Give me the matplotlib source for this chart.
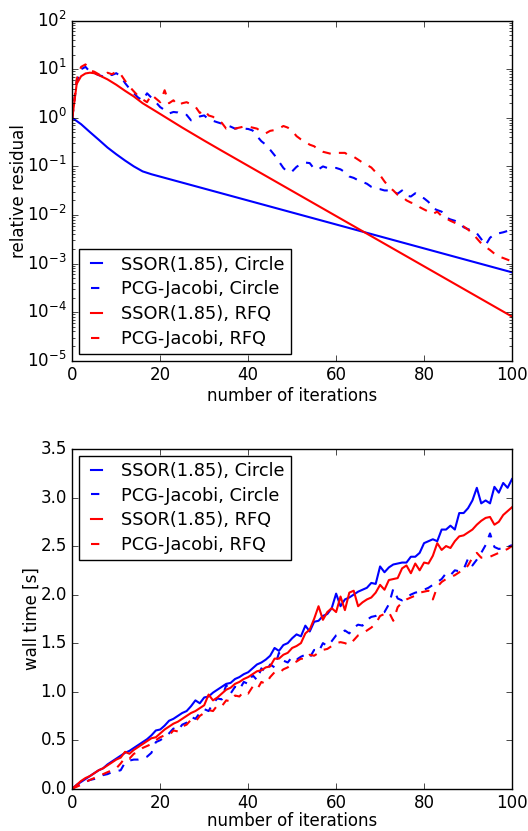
import matplotlib
matplotlib.use("Agg")
import matplotlib.pyplot as plt

plt.style.use("classic")

# ---------------- data: relative residual ----------------
ssor_circle_res_x = [0, 2, 4, 6, 8, 10, 12, 14, 16, 18, 100]
ssor_circle_res = [1.0, 0.74, 0.51, 0.355, 0.245, 0.178, 0.132, 0.100, 0.079, 0.069, 6.6e-4]

ssor_rfq_res_x = [0, 1, 2, 3, 4, 5, 6, 8, 10, 12, 14, 16, 20, 25, 30, 34, 100]
ssor_rfq_res = [1.0, 5.0, 7.2, 8.2, 8.5, 8.3, 7.6, 6.2, 4.8, 3.6, 2.75, 2.0, 1.2,
                0.63, 0.34, 0.21, 8.1e-5]

iters = list(range(101))

pcg_circle_res = [
    1.0, 5.6, 10.0, 11.2, 8.9, 8.3, 7.6, 7.1, 7.9, 7.6,
    8.3, 7.2, 5.2, 4.0, 3.2, 2.6, 2.3, 3.2, 2.6, 2.1,
    1.66, 1.45, 1.23, 1.32, 1.29, 1.17, 1.15, 0.89, 0.95, 1.07,
    1.12, 0.93, 0.87, 0.81, 0.76, 0.71, 0.66, 0.60, 0.62, 0.60,
    0.59, 0.55, 0.42, 0.33, 0.28, 0.22, 0.17, 0.126, 0.093, 0.076,
    0.079, 0.098, 0.112, 0.120, 0.117, 0.089, 0.087, 0.100, 0.093, 0.091,
    0.093, 0.087, 0.076, 0.062, 0.058, 0.052, 0.048, 0.044, 0.038, 0.035,
    0.034, 0.032, 0.032, 0.030, 0.0275, 0.032, 0.025, 0.024, 0.028, 0.024,
    0.022, 0.0186, 0.0138, 0.0126, 0.0117, 0.0089, 0.0081, 0.0076, 0.0069, 0.0056,
    0.0051, 0.0047, 0.0042, 0.0032, 0.0024, 0.0034, 0.0040, 0.0042, 0.0044, 0.0047,
    0.0050]

pcg_rfq_res = [
    1.0, 6.3, 11.2, 12.6, 9.5, 8.9, 7.9, 7.4, 8.5, 7.9,
    8.9, 7.9, 5.8, 4.4, 3.5, 2.8, 2.4, 2.1, 3.0, 2.5,
    2.1, 3.7, 2.0, 2.3, 1.8, 2.0, 2.1, 1.9, 1.7, 1.26,
    1.45, 1.12, 1.05, 0.89, 0.79, 0.60, 0.63, 0.60, 0.63, 0.66,
    0.66, 0.63, 0.60, 0.52, 0.48, 0.54, 0.56, 0.60, 0.68, 0.63,
    0.54, 0.42, 0.36, 0.32, 0.28, 0.26, 0.22, 0.20, 0.19, 0.18,
    0.19, 0.19, 0.19, 0.166, 0.158, 0.138, 0.12, 0.107, 0.095, 0.076,
    0.066, 0.049, 0.038, 0.032, 0.026, 0.024, 0.020, 0.018, 0.017, 0.0145,
    0.013, 0.0117, 0.0105, 0.0117, 0.0095, 0.0085, 0.0076, 0.0069, 0.0062, 0.0058,
    0.0050, 0.0042, 0.0033, 0.0026, 0.0022, 0.0019, 0.0016, 0.0014, 0.0013, 0.0012,
    0.0011]

# ---------------- data: wall time [s] ----------------
ssor_circle_time = [
    0.00, 0.04, 0.07, 0.10, 0.13, 0.16, 0.19, 0.21, 0.25, 0.28,
    0.31, 0.34, 0.37, 0.39, 0.42, 0.45, 0.48, 0.51, 0.55, 0.60,
    0.61, 0.65, 0.70, 0.72, 0.75, 0.78, 0.80, 0.85, 0.91, 0.88,
    0.94, 0.95, 0.99, 1.02, 1.05, 1.08, 1.09, 1.13, 1.15, 1.18,
    1.20, 1.24, 1.28, 1.30, 1.33, 1.37, 1.45, 1.42, 1.48, 1.50,
    1.55, 1.59, 1.57, 1.68, 1.62, 1.72, 1.73, 1.78, 1.80, 1.86,
    2.01, 1.88, 1.95, 1.97, 2.00, 2.03, 2.05, 2.07, 2.12, 2.11,
    2.29, 2.23, 2.28, 2.31, 2.32, 2.33, 2.33, 2.39, 2.39, 2.43,
    2.53, 2.55, 2.57, 2.55, 2.67, 2.67, 2.71, 2.67, 2.84, 2.84,
    2.89, 2.97, 3.10, 2.94, 2.97, 2.94, 3.11, 3.05, 3.15, 3.10,
    3.19]

pcg_circle_time = [
    0.00, 0.03, 0.05, 0.07, 0.09, 0.10, 0.12, 0.14, 0.15, 0.17,
    0.18, 0.19, 0.27, 0.29, 0.30, 0.30, 0.31, 0.33, 0.37, 0.48,
    0.50, 0.53, 0.57, 0.62, 0.60, 0.66, 0.68, 0.74, 0.72, 0.78,
    0.82, 0.80, 0.88, 0.93, 0.92, 1.07, 0.98, 1.05, 1.02, 1.10,
    1.08, 1.17, 1.12, 1.24, 1.20, 1.28, 1.25, 1.40, 1.32, 1.30,
    1.36, 1.33, 1.36, 1.38, 1.35, 1.43, 1.41, 1.50, 1.47, 1.52,
    1.58, 1.60, 1.63, 1.60, 1.66, 1.69, 1.68, 1.74, 1.77, 1.78,
    1.81, 1.82, 1.90, 2.06, 1.96, 1.94, 1.97, 2.00, 2.02, 2.03,
    2.05, 2.07, 2.10, 2.13, 2.16, 2.22, 2.20, 2.25, 2.24, 2.26,
    2.37, 2.30, 2.36, 2.43, 2.51, 2.63, 2.49, 2.47, 2.48, 2.49,
    2.51]

ssor_rfq_time = [
    0.00, 0.04, 0.08, 0.11, 0.13, 0.16, 0.19, 0.21, 0.24, 0.27,
    0.30, 0.32, 0.38, 0.36, 0.40, 0.43, 0.46, 0.49, 0.52, 0.53,
    0.57, 0.61, 0.64, 0.67, 0.69, 0.72, 0.75, 0.78, 0.80, 0.83,
    0.86, 0.97, 0.91, 0.94, 0.98, 1.02, 1.04, 1.08, 1.10, 1.13,
    1.15, 1.18, 1.21, 1.22, 1.25, 1.26, 1.34, 1.34, 1.38, 1.40,
    1.45, 1.47, 1.50, 1.60, 1.64, 1.75, 1.88, 1.74, 1.82, 1.86,
    1.82, 1.98, 1.84, 2.02, 2.04, 1.88, 1.92, 1.95, 1.97, 2.02,
    2.10, 2.05, 2.15, 2.16, 2.17, 2.27, 2.30, 2.22, 2.32, 2.25,
    2.33, 2.32, 2.40, 2.53, 2.46, 2.50, 2.48, 2.55, 2.60, 2.61,
    2.64, 2.67, 2.72, 2.76, 2.79, 2.80, 2.72, 2.75, 2.82, 2.86,
    2.90]

pcg_rfq_time = [
    0.00, 0.02, 0.04, 0.07, 0.09, 0.11, 0.13, 0.15, 0.17, 0.19,
    0.21, 0.26, 0.32, 0.31, 0.36, 0.38, 0.42, 0.44, 0.46, 0.50,
    0.53, 0.55, 0.55, 0.60, 0.59, 0.64, 0.66, 0.71, 0.69, 0.75,
    0.78, 0.81, 0.80, 0.86, 0.85, 0.91, 0.90, 0.96, 0.95, 1.00,
    0.98, 1.05, 1.02, 1.10, 1.08, 1.15, 1.20, 1.19, 1.23, 1.25,
    1.29, 1.31, 1.34, 1.33, 1.38, 1.37, 1.40, 1.43, 1.44, 1.47,
    1.50, 1.51, 1.50, 1.48, 1.53, 1.58, 1.60, 1.63, 1.66, 1.70,
    1.78, 1.80, 1.82, 1.73, 1.87, 1.92, 1.95, 1.97, 1.99, 2.02,
    2.03, 2.04, 1.95, 2.08, 2.13, 2.16, 2.18, 2.20, 2.23, 2.25,
    2.30, 2.38, 2.43, 2.38, 2.38, 2.39, 2.41, 2.43, 2.45, 2.47,
    2.50]

labels = ["SSOR(1.85), Circle", "PCG-Jacobi, Circle",
          "SSOR(1.85), RFQ", "PCG-Jacobi, RFQ"]
x_ticks = [0, 20, 40, 60, 80, 100]

# ---------------- figure ----------------
W, H = 528, 831
fig = plt.figure(figsize=(W / 100, H / 100), dpi=100, facecolor="white")

def frac_axes(left, top, right, bottom):
    return fig.add_axes([left / W, 1 - bottom / H, (right - left) / W, (bottom - top) / H])

lw = 1.5
leg_kw = dict(fontsize=12.75, handlelength=1.24, handletextpad=0.8,
              labelspacing=0.38, borderpad=0.35, borderaxespad=0.38,
              fancybox=False, framealpha=1.0)

ax1 = frac_axes(72.3, 20.7, 512.0, 360.7)
ax1.plot(ssor_circle_res_x, ssor_circle_res, "b-", lw=lw, label=labels[0])
ax1.plot(iters, pcg_circle_res, "b--", lw=lw, label=labels[1])
ax1.plot(ssor_rfq_res_x, ssor_rfq_res, "r-", lw=lw, label=labels[2])
ax1.plot(iters, pcg_rfq_res, "r--", lw=lw, label=labels[3])
ax1.set_yscale("log")
ax1.set_ylim(1e-5, 1e2)
ax1.set_xlim(0, 100)
ax1.set_xticks(x_ticks)
ax1.set_xlabel("number of iterations", labelpad=2)
ax1.set_ylabel("relative residual", labelpad=-0.5)
ax1.legend(loc="lower left", **leg_kw)

ax2 = frac_axes(72.3, 449.0, 512.0, 788.7)
ax2.plot(iters, ssor_circle_time, "b-", lw=lw, label=labels[0])
ax2.plot(iters, pcg_circle_time, "b--", lw=lw, label=labels[1])
ax2.plot(iters, ssor_rfq_time, "r-", lw=lw, label=labels[2])
ax2.plot(iters, pcg_rfq_time, "r--", lw=lw, label=labels[3])
ax2.set_ylim(0, 3.5)
ax2.set_xlim(0, 100)
ax2.set_xticks(x_ticks)
ax2.set_yticks([0.0, 0.5, 1.0, 1.5, 2.0, 2.5, 3.0, 3.5])
ax2.set_xlabel("number of iterations", labelpad=-0.2)
ax2.set_ylabel("wall time [s]", labelpad=-0.5)
ax2.legend(loc="upper left", **leg_kw)

fig.savefig("out.png", dpi=100, facecolor="white")
